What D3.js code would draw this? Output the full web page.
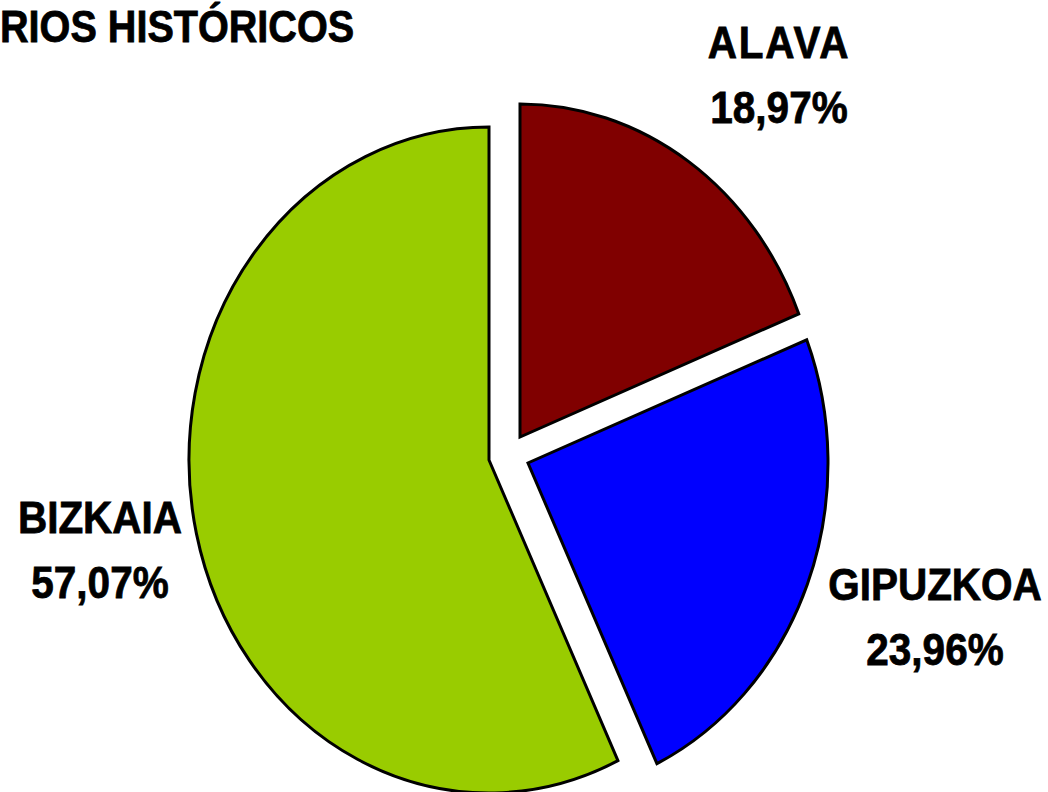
<!DOCTYPE html>
<html>
<head>
<meta charset="utf-8">
<script src="https://cdn.jsdelivr.net/npm/d3@7"></script>
<style>
  body { margin: 0; background: #fff; overflow: hidden; }
  text { font-family: "Liberation Sans", Arial, sans-serif; font-weight: bold; fill: #000;
         stroke: #000; stroke-width: 0.8px; }
</style>
</head>
<body>
<div id="vis"></div>
<script>
// Data
const TERRITORIES = ["ALAVA", "GIPUZKOA", "BIZKAIA"];
const SHARES = [18.97, 23.96, 57.07];
const COLORS = ["#800000", "#0000ff", "#99cc00"];
const TITLE = "RIOS HISTÓRICOS";

// Frame
const FRAME_WIDTH = 1048;
const FRAME_HEIGHT = 792;
const CENTER = {x: 489, y: 460};
const RADIUS_X = 300;
const RADIUS_Y = 333;
const FONT_SIZE = 45;
const SQUEEZE = 0.9; // the original lettering is narrow

// explode offsets per slice, and label anchors (layout only)
const OFFSETS = {ALAVA: [31, -23], GIPUZKOA: [39, 3], BIZKAIA: [0, 0]};
const LABEL_POS = {ALAVA: [779, 58], GIPUZKOA: [935, 600], BIZKAIA: [100, 533]};

const FRAME = d3.select("#vis")
                .append("svg")
                  .attr("width", FRAME_WIDTH)
                  .attr("height", FRAME_HEIGHT);

const data = TERRITORIES.map((t, i) => ({name: t, value: SHARES[i], color: COLORS[i]}));

const pie = d3.pie()
              .sort(null)
              .value((d) => d.value);

const arc = d3.arc()
              .innerRadius(0)
              .outerRadius(RADIUS_X);

// Slices, drawn as a circle then stretched vertically
FRAME.selectAll(".slice")
     .data(pie(data))
     .enter()
     .append("path")
       .attr("class", "slice")
       .attr("transform", (d) => {
         const off = OFFSETS[d.data.name];
         return "translate(" + (CENTER.x + off[0]) + "," + (CENTER.y + off[1]) + ")" +
                " scale(1," + (RADIUS_Y / RADIUS_X) + ")";
       })
       .attr("d", arc)
       .attr("fill", (d) => d.data.color)
       .attr("stroke", "#000")
       .attr("stroke-width", 3)
       .attr("vector-effect", "non-scaling-stroke");

// Labels: name and percentage
const fmt = (v) => v.toFixed(2).replace(".", ",") + "%";

const labels = FRAME.selectAll(".label")
     .data(data)
     .enter()
     .append("g")
       .attr("class", "label")
       .attr("transform", (d) => "translate(" + LABEL_POS[d.name][0] + "," + LABEL_POS[d.name][1] + ")" +
                                 " scale(" + SQUEEZE + ",1)");

labels.append("text")
      .attr("text-anchor", "middle")
      .attr("font-size", FONT_SIZE + "px")
      .attr("letter-spacing", (d) => d.name === "ALAVA" ? "2px" : "0px")
      .text((d) => d.name);

labels.append("text")
      .attr("y", 65)
      .attr("text-anchor", "middle")
      .attr("font-size", FONT_SIZE + "px")
      .text((d) => fmt(d.value));

// Title, whose start is cut at the left edge of the frame
FRAME.append("text")
     .attr("transform", "translate(0,42) scale(0.88,1)")
     .attr("font-size", FONT_SIZE + "px")
     .text(TITLE);
</script>
</body>
</html>
